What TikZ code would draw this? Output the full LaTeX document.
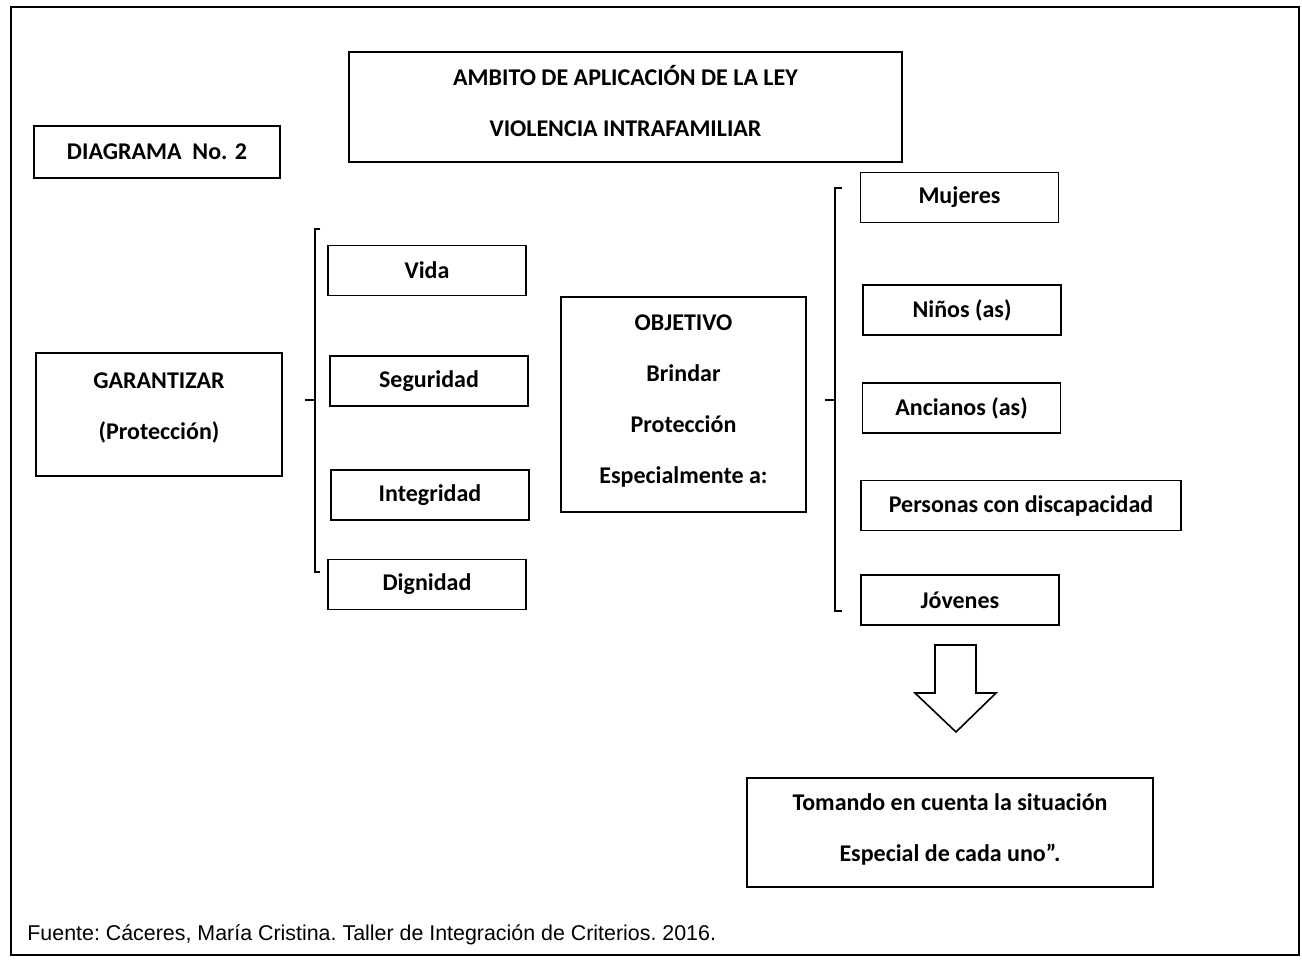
\documentclass[tikz,border=0pt]{standalone}
\usepackage{fontspec}
\setmainfont{Carlito}
\newfontfamily\arialfont{Liberation Sans}
\begin{document}
\begin{tikzpicture}[x=0.5pt,y=-0.5pt,
  txt/.style={inner sep=0pt,align=center,
    font=\fontsize{12pt}{25.5pt}\selectfont\bfseries},
  box/.style={txt,draw,line width=0.8pt},
  item/.style={box,minimum width=99pt,minimum height=25pt}]
\useasboundingbox (0,0) rectangle (1302,960);
% outer frame
\draw[line width=1.4pt] (11,7) rectangle (1299,955);

% header
\node[box,minimum width=276.5pt,minimum height=55pt] (title) at (625.5,107) {};
\node[txt] (titletxt) at (625.5,101) {AMBITO DE APLICACIÓN DE LA LEY\\VIOLENCIA INTRAFAMILIAR};
\node[box,minimum width=123pt,minimum height=26pt] (diag) at (157,152) {DIAGRAMA~ No. 2};

% left block
\node[box,minimum width=123pt,minimum height=61.5pt] (garant) at (159,414.5) {};
\node[txt] (garanttxt) at (159,407.5) {GARANTIZAR\\(Protección)};
\node[item] (vida) at (427,270.5) {Vida};
\node[item] (seg) at (429,381) {Seguridad};
\node[item] (integ) at (430,495) {Integridad};
\node[item] (dign) at (427,584.5) {Dignidad};
\draw[line width=0.8pt] (320,229) -- (315,229) -- (315,572) -- (320,572);
\draw[line width=0.8pt] (305,400) -- (315,400);

% centre block
\node[box,minimum width=122.5pt,minimum height=107.5pt] (obj) at (683.5,404.5) {};
\node[txt] (objtxt) at (683.5,401.5) {OBJETIVO\\Brindar\\Protección\\Especialmente a:};

% right block
\node[item] (muj) at (959.5,197.5) {Mujeres};
\node[item] (ninos) at (962,310) {Niños (as)};
\node[item] (anc) at (961.5,408) {Ancianos (as)};
\node[item,minimum width=160pt] (pers) at (1021,505.5) {Personas con discapacidad};
\node[item] (jov) at (960,600) {Jóvenes};
\draw[line width=0.8pt] (842,188) -- (835,188) -- (835,611) -- (842,611);
\draw[line width=0.8pt] (825,400) -- (835,400);

% down arrow and result
\draw[line width=0.8pt] (935,645) -- (976,645) -- (976,693) -- (996,693)
  -- (956,732) -- (915,693) -- (935,693) -- cycle;
\node[box,minimum width=203pt,minimum height=54.5pt] (tom) at (950,832.5) {};
\node[txt] (tomtxt) at (950,829.5) {Tomando en cuenta la situación\\Especial de cada uno”.};

% source
\node[anchor=base west,inner sep=0pt,font=\arialfont\fontsize{10.7pt}{13pt}\selectfont]
  (fuente) at (27,940) {\frenchspacing Fuente: Cáceres, María Cristina. Taller de Integración de Criterios. 2016.};
\end{tikzpicture}
\end{document}
